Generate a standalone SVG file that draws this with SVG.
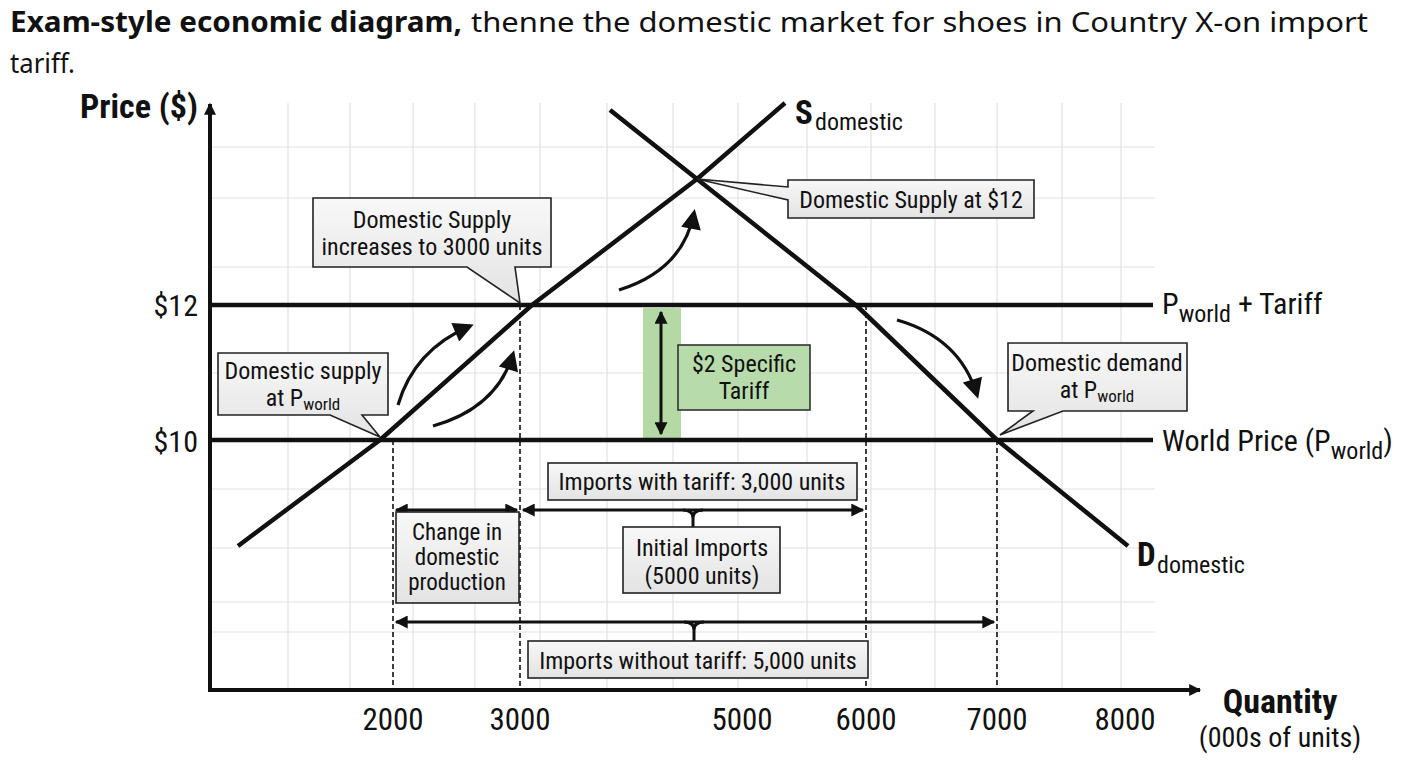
<svg xmlns="http://www.w3.org/2000/svg" width="1408" height="768" viewBox="0 0 1408 768">
<defs>
<style>
.t{font-family:"Liberation Sans Narrow","Roboto Condensed","Liberation Sans",Arial,sans-serif;fill:#111}
.title{font-family:"Noto Sans","Open Sans","Liberation Sans",sans-serif;font-size:28px;fill:#111}
.grid{stroke:#e2e2e2;stroke-width:1.2}
.thick{stroke:#111;stroke-width:4.5;fill:none;stroke-linejoin:round}
.axis{stroke:#111;stroke-width:4;fill:none}
.dash{stroke:#111;stroke-width:1.6;stroke-dasharray:5 3;fill:none}
.call{fill:url(#cg);stroke:#222;stroke-width:1.6;stroke-linejoin:miter}
.curve{stroke:#111;stroke-width:3.2;fill:none;marker-end:url(#ah)}
.dbl{stroke:#111;stroke-width:3;fill:none;marker-start:url(#sh);marker-end:url(#sh)}
.brace{stroke:#111;stroke-width:3;fill:none}
</style>
<linearGradient id="cg" x1="0" y1="0" x2="0" y2="1">
<stop offset="0" stop-color="#f8f8f8"/>
<stop offset="1" stop-color="#e3e3e3"/>
</linearGradient>
<marker id="ah" viewBox="0 0 10 10" refX="8" refY="5" markerUnits="userSpaceOnUse" markerWidth="24" markerHeight="20" orient="auto">
<path d="M0,0 L10,5 L0,10 z" fill="#111"/>
</marker>
<marker id="sh" viewBox="0 0 10 10" refX="9" refY="5" markerUnits="userSpaceOnUse" markerWidth="17" markerHeight="13" orient="auto-start-reverse">
<path d="M0,0 L10,5 L0,10 z" fill="#111"/>
</marker>
<marker id="axh" viewBox="0 0 10 10" refX="9" refY="5" markerUnits="userSpaceOnUse" markerWidth="16" markerHeight="12" orient="auto">
<path d="M0,0 L10,5 L0,10 z" fill="#111"/>
</marker>
</defs>
<rect width="1408" height="768" fill="#ffffff"/>

<g id="title">
<text class="title" x="10" y="32" font-weight="bold" textLength="452" lengthAdjust="spacingAndGlyphs">Exam-style economic diagram,</text>
<text class="title" x="471" y="32" textLength="897" lengthAdjust="spacingAndGlyphs">thenne the domestic market for shoes in Country X-on import</text>
<text class="title" x="10" y="73" textLength="65" lengthAdjust="spacingAndGlyphs">tariff.</text>
</g>

<g id="grid">
<path class="grid" d="M288,103V690 M350,103V690 M413,103V690 M475,103V690 M540,103V690 M607,103V690 M673,103V690 M738,103V690 M807,103V690 M871,103V690 M935,103V690 M997,103V690 M1062,103V690 M1121,103V690"/>
<path class="grid" d="M210,147H1155 M210,198H1155 M210,267H1155 M210,373H1155 M210,489H1155 M210,548H1155 M210,602H1155 M210,632H1155"/>
</g>

<g id="axes">
<path class="axis" d="M210,690 V104" marker-end="url(#axh)"/>
<path class="axis" d="M208,690 H1200" marker-end="url(#axh)"/>
<text class="t" x="198" y="118" font-size="34" font-weight="bold" text-anchor="end">Price ($)</text>
<text class="t" x="198" y="316" font-size="30" text-anchor="end">$12</text>
<text class="t" x="198" y="452" font-size="30" text-anchor="end">$10</text>
<text class="t" x="393" y="730" font-size="31" text-anchor="middle">2000</text>
<text class="t" x="520" y="730" font-size="31" text-anchor="middle">3000</text>
<text class="t" x="742" y="730" font-size="31" text-anchor="middle">5000</text>
<text class="t" x="866" y="730" font-size="31" text-anchor="middle">6000</text>
<text class="t" x="997" y="730" font-size="31" text-anchor="middle">7000</text>
<text class="t" x="1125" y="730" font-size="31" text-anchor="middle">8000</text>
<text class="t" x="1280" y="713" font-size="34" font-weight="bold" text-anchor="middle">Quantity</text>
<text class="t" x="1280" y="747" font-size="28" text-anchor="middle">(000s of units)</text>
</g>

<g id="tariff-band">
<rect x="643" y="308" width="38" height="130" fill="#b4d9a5"/>
</g>

<g id="connectors">
<path class="dash" d="M393,440V690 M520,305V690 M866,305V690 M997,440V690"/>
<path class="thick" d="M210,305H1153"/>
<path class="thick" d="M210,440H1153"/>
<path class="thick" d="M238,546 L380,440 L532,305 L697,179 L785,103"/>
<path class="thick" d="M610,110 L697,179 L857,306 L997,440 L1128,546"/>
<path class="dbl" d="M661,312V434"/>
<path class="curve" d="M398,405 Q414,350 470,326"/>
<path class="curve" d="M433,426 Q497,408 513,354"/>
<path class="curve" d="M619,290 Q683,270 694,213"/>
<path class="curve" d="M897,320 Q960,338 977,395"/>
<path class="dbl" d="M396,510H517"/>
<path class="dbl" d="M523,510H863"/>
<path class="brace" d="M683,510 Q693,510 693,518 V527 M703,510 Q693,510 693,518"/>
<path class="dbl" d="M396,622H994"/>
<path class="brace" d="M684,622 Q694,622 694,630 V641 M704,622 Q694,622 694,630"/>
</g>

<g id="label-supply">
<text class="t" x="795" y="124" font-size="33" font-weight="bold">S</text>
<text class="t" x="815" y="130" font-size="24">domestic</text>
</g>
<g id="label-demand">
<text class="t" x="1137" y="566" font-size="33" font-weight="bold">D</text>
<text class="t" x="1157" y="573" font-size="24">domestic</text>
</g>
<g id="label-ptariff">
<text class="t" x="1162" y="314" font-size="30">P<tspan font-size="24" dy="8">world</tspan><tspan dy="-8"> + Tariff</tspan></text>
</g>
<g id="label-world">
<text class="t" x="1162" y="451" font-size="30">World Price (P<tspan font-size="24" dy="8">world</tspan><tspan dy="-8">)</tspan></text>
</g>

<g id="callout-increase">
<path class="call" d="M313,198 H551 V267 H515 L520,303 L467,267 H313 Z"/>
<text class="t" x="432" y="228" font-size="24" text-anchor="middle">Domestic Supply</text>
<text class="t" x="432" y="255" font-size="24" text-anchor="middle">increases to 3000 units</text>
</g>

<g id="callout-supply-world">
<path class="call" d="M218,353 H388 V415 H362 L380,437 L330,415 H218 Z"/>
<text class="t" x="303" y="379" font-size="24" text-anchor="middle">Domestic supply</text>
<text class="t" x="303" y="406" font-size="24" text-anchor="middle">at P<tspan font-size="17" dy="4">world</tspan></text>
</g>

<g id="callout-supply12">
<path class="call" d="M788,180 H1034 V218 H788 V200 L697,179 L788,187 Z"/>
<text class="t" x="911" y="208" font-size="24" text-anchor="middle">Domestic Supply at $12</text>
</g>

<g id="callout-demand">
<path class="call" d="M1008,343 H1187 V411 H1063 L1000,435 L1033,411 H1008 Z"/>
<text class="t" x="1097" y="371" font-size="24" text-anchor="middle">Domestic demand</text>
<text class="t" x="1097" y="398" font-size="24" text-anchor="middle">at P<tspan font-size="17" dy="4">world</tspan></text>
</g>

<g id="box-tariff">
<rect x="678" y="345" width="132" height="65" fill="#b8dbab" stroke="#333" stroke-width="1.6"/>
<text class="t" x="744" y="372" font-size="24" text-anchor="middle">$2 Specific</text>
<text class="t" x="744" y="399" font-size="24" text-anchor="middle">Tariff</text>
</g>

<g id="box-imports-tariff">
<rect class="call" x="548" y="463" width="309" height="37"/>
<text class="t" x="702" y="490" font-size="24" text-anchor="middle">Imports with tariff: 3,000 units</text>
</g>

<g id="box-change">
<rect class="call" x="396" y="512" width="123" height="91"/>
<text class="t" x="457" y="540" font-size="23" text-anchor="middle">Change in</text>
<text class="t" x="457" y="565" font-size="23" text-anchor="middle">domestic</text>
<text class="t" x="457" y="590" font-size="23" text-anchor="middle">production</text>
</g>

<g id="box-initial">
<rect class="call" x="623" y="527" width="157" height="66"/>
<text class="t" x="702" y="556" font-size="24" text-anchor="middle">Initial Imports</text>
<text class="t" x="702" y="584" font-size="24" text-anchor="middle">(5000 units)</text>
</g>

<g id="box-imports-no-tariff">
<rect class="call" x="528" y="641" width="340" height="37"/>
<text class="t" x="698" y="669" font-size="24" text-anchor="middle">Imports without tariff: 5,000 units</text>
</g>
</svg>
